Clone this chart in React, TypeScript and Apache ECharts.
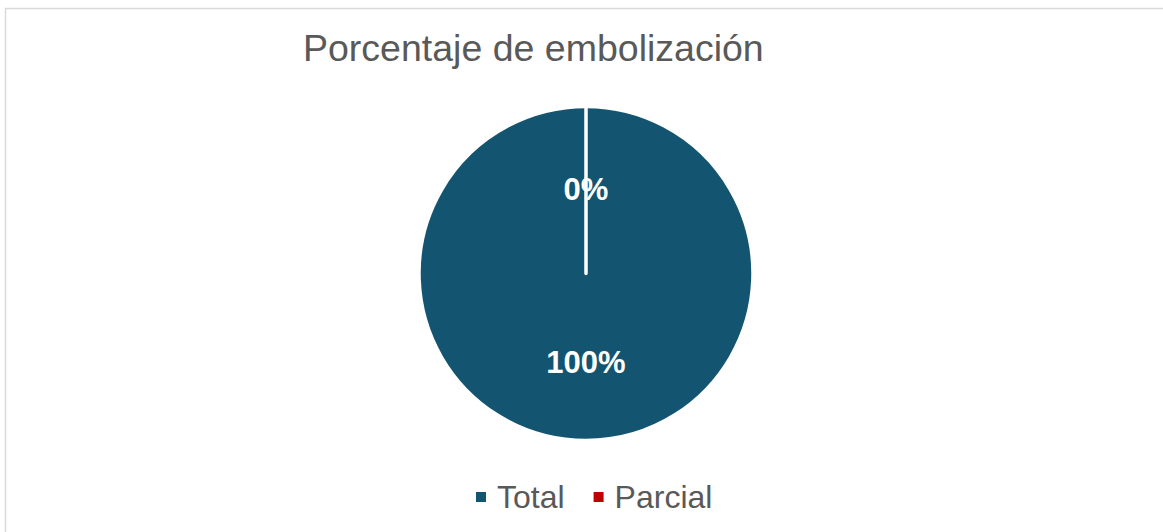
import React, { useEffect, useRef } from "react";
import * as echarts from "echarts";

const categories = ["Total", "Parcial"];
const values = [100, 0];
const colors = ["#135470", "#C00000"];
const titleText = "Porcentaje de embolización";

export default function App() {
  const ref = useRef<HTMLDivElement>(null);
  useEffect(() => {
    if (!ref.current) return;
    const chart = echarts.init(ref.current, undefined, { renderer: "svg" });
    chart.setOption({
      animation: false,
      backgroundColor: "#ffffff",
      title: {
        text: titleText,
        left: 303,
        top: 29,
        padding: 0,
        textStyle: {
          fontFamily: "Liberation Sans, Arial, sans-serif",
          fontSize: 37.5,
          fontWeight: "normal",
          color: "#595959",
        },
      },
      legend: {
        data: categories,
        left: 474,
        top: 480,
        padding: 0,
        icon: "rect",
        itemWidth: 12,
        itemHeight: 12,
        itemGap: 27,
        textStyle: {
          fontFamily: "Liberation Sans, Arial, sans-serif",
          fontSize: 32,
          color: "#595959",
          lineHeight: 34,
          padding: [0, 0, 0, 5],
        },
      },
      graphic: [
        {
          type: "rect",
          shape: { x: 5.5, y: 8.5, width: 1180, height: 560 },
          style: { fill: "none", stroke: "#d9d9d9", lineWidth: 1.5 },
          silent: true,
        },
      ],
      series: [
        {
          type: "pie",
          center: [586, 273.5],
          radius: [0, 167],
          startAngle: 90,
          clockwise: true,
          label: {
            show: true,
            position: "inside",
            formatter: "{d}%",
            fontFamily: "Liberation Sans, Arial, sans-serif",
            fontSize: 31,
            fontWeight: "bold",
            color: "#ffffff",
            offset: [0, 2],
          },
          labelLine: { show: false },
          itemStyle: { borderColor: "#ffffff", borderWidth: 3.5 },
          emphasis: { disabled: true },
          data: categories.map((name, i) => ({
            name,
            value: values[i],
            itemStyle: { color: colors[i] },
          })),
        },
      ],
    });
    return () => chart.dispose();
  }, []);
  return (
    <div
      ref={ref}
      style={{ position: "absolute", left: 0, top: 0, width: 1163, height: 532 }}
    />
  );
}
